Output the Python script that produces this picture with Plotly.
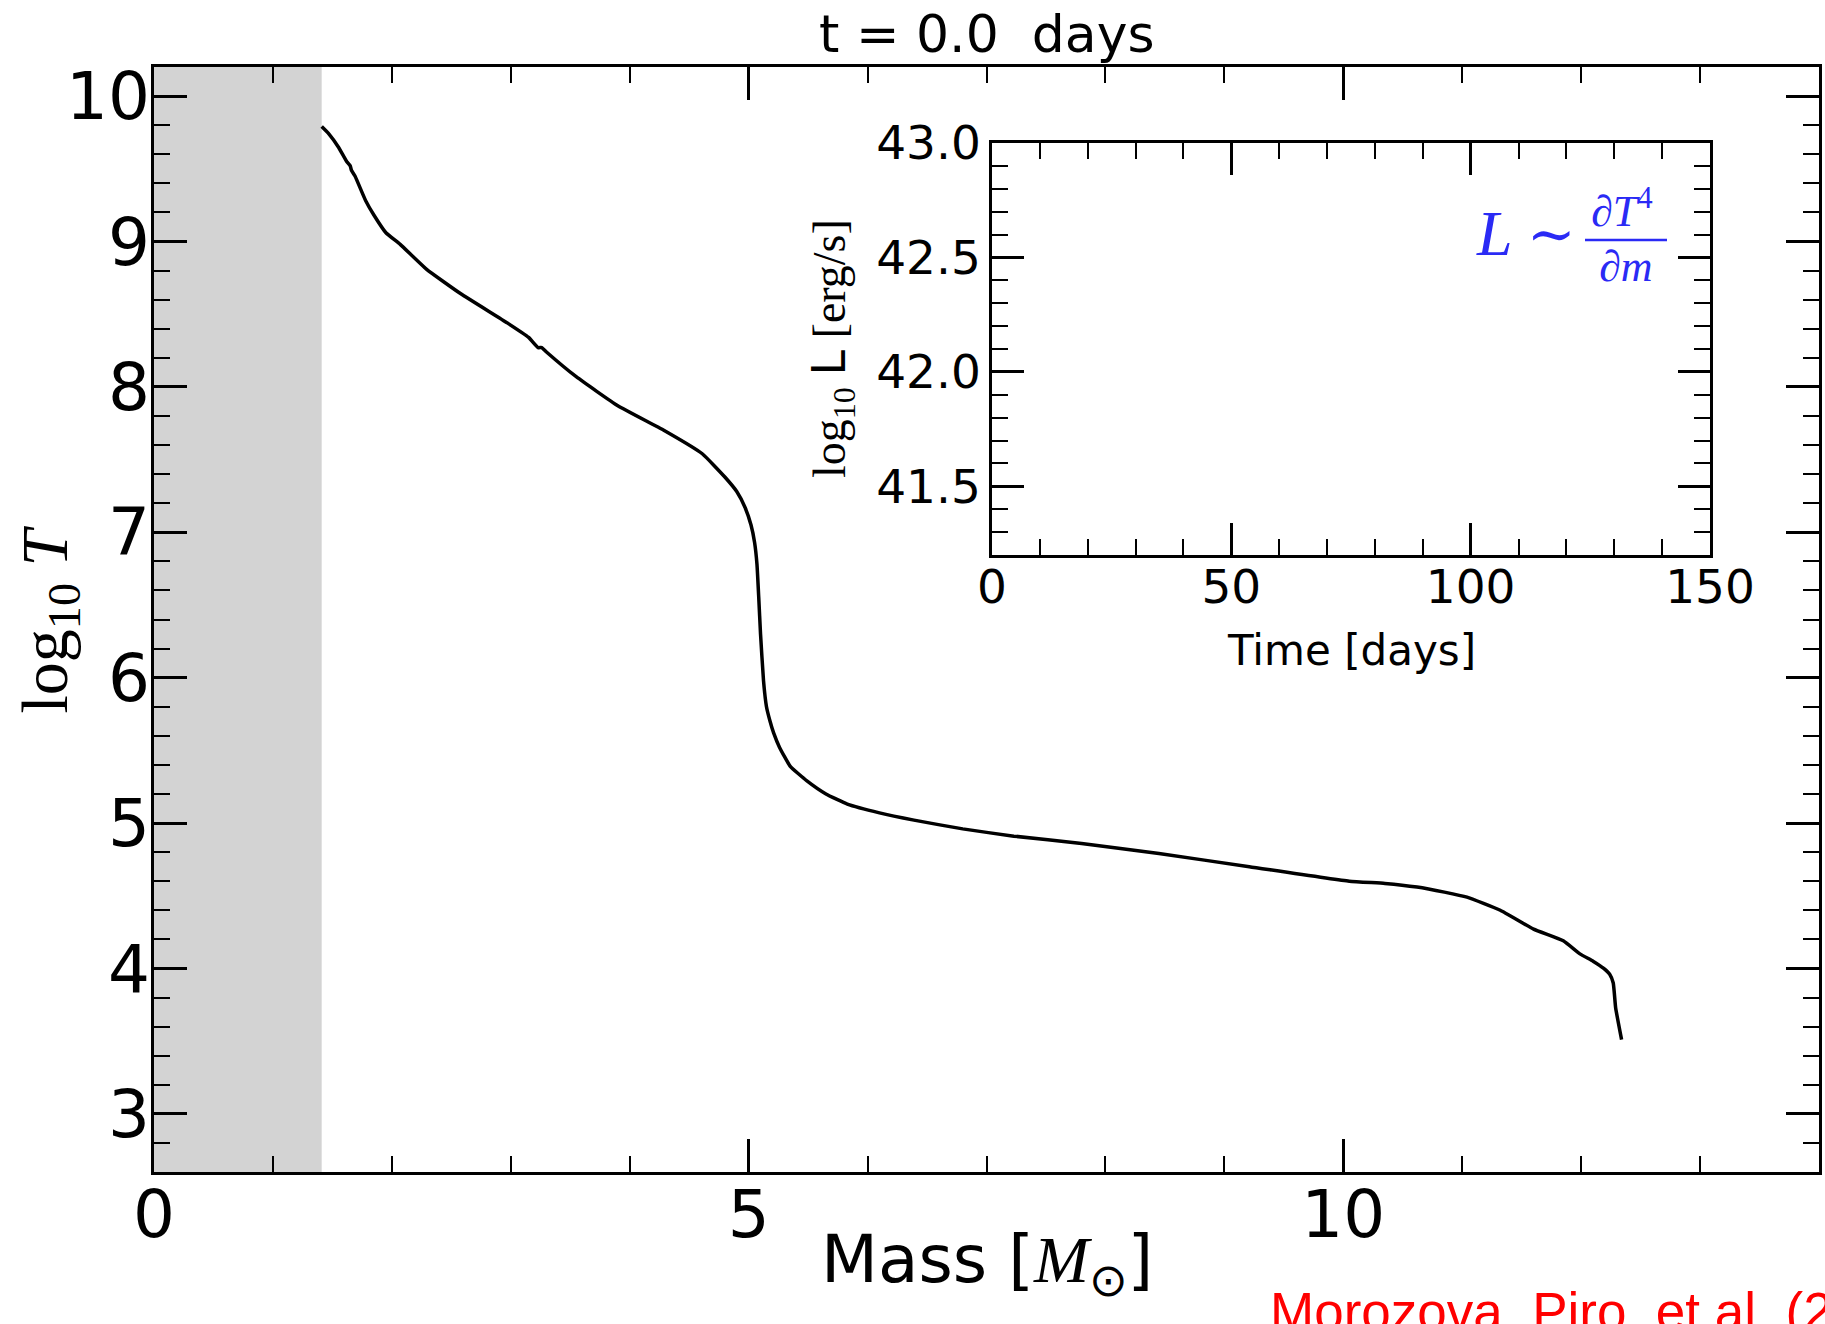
import plotly.graph_objects as go

# Temperature profile of the progenitor at t = 0 (mass coordinate in solar masses)
mass = [1.41, 1.47, 1.55, 1.62, 1.65, 1.66, 1.69, 1.78, 1.85, 1.95, 2.07, 2.29,
        2.58, 2.97, 3.15, 3.23, 3.26, 3.30, 3.55, 3.90, 4.29, 4.61, 4.80, 4.90,
        4.97, 5.02, 5.05, 5.07, 5.085, 5.10, 5.125, 5.15, 5.18, 5.21, 5.26,
        5.35, 5.49, 5.65, 5.83, 6.10, 6.39, 6.80, 7.23, 7.80, 8.45, 9.21, 10.05,
        10.35, 10.62, 10.85, 11.04, 11.32, 11.60, 11.85, 11.99, 12.10, 12.19,
        12.24, 12.27, 12.29, 12.34]
log_T = [9.79, 9.74, 9.65, 9.55, 9.52, 9.49, 9.45, 9.28, 9.18, 9.06, 8.98, 8.81,
         8.64, 8.44, 8.34, 8.27, 8.27, 8.24, 8.07, 7.87, 7.70, 7.54, 7.38, 7.28,
         7.17, 7.05, 6.93, 6.78, 6.55, 6.30, 5.98, 5.80, 5.70, 5.62, 5.52,
         5.39, 5.29, 5.20, 5.13, 5.07, 5.02, 4.96, 4.91, 4.86, 4.79, 4.70, 4.60,
         4.585, 4.56, 4.525, 4.49, 4.40, 4.27, 4.19, 4.10, 4.05, 4.00,
         3.96, 3.90, 3.73, 3.51]

# Light curve accumulated so far (nothing yet at t = 0)
t_days = []
log_L = []

elapsed = "0.0"
excised_mass = mass[0]  # inner boundary; the excised core is shaded

x_ticks_main = [0, 5, 10]
y_ticks_main = [3, 4, 5, 6, 7, 8, 9, 10]
x_ticks_inset = [0, 50, 100, 150]
y_ticks_inset = [41.5, 42.0, 42.5, 43.0]

# ---- layout geometry (pixels) ----
W, H = 1825, 1324
ML, MR, MT, MB = 154, 6, 67, 152


def px_x(px):
    return (px - ML) / (W - ML - MR)


def px_y(py):
    return (H - MB - py) / (H - MT - MB)


BLUE = "#2a2af5"
SANS = "DejaVu Sans"
SERIF = "Liberation Serif"


def axis_style(size, major_len, minor_len, tickvals, minor_dtick, standoff):
    return dict(
        showline=True, linecolor="black", linewidth=2.5, mirror="ticks",
        ticks="inside", ticklen=major_len, tickwidth=3, tickcolor="black",
        tickmode="array", tickvals=tickvals,
        minor=dict(ticks="inside", ticklen=minor_len, tickwidth=2,
                   tickcolor="black", dtick=minor_dtick, tick0=0),
        showgrid=False, zeroline=False, fixedrange=True, automargin=False,
        ticklabelstandoff=standoff,
        tickfont=dict(family=SANS, size=size, color="black"),
    )


fig = go.Figure()
fig.add_trace(go.Scatter(
    x=mass, y=log_T, mode="lines",
    line=dict(color="black", width=3.5, shape="spline", smoothing=0.4),
    showlegend=False, hoverinfo="skip"))
fig.add_trace(go.Scatter(
    x=t_days, y=log_L, mode="lines", xaxis="x2", yaxis="y2",
    line=dict(color="black", width=3), showlegend=False, hoverinfo="skip"))

ix0, ix1 = px_x(992), px_x(1710)
iy0, iy1 = px_y(555), px_y(143)

fig.update_layout(
    width=W, height=H,
    margin=dict(l=ML, r=MR, t=MT, b=MB, pad=0, autoexpand=False),
    paper_bgcolor="white", plot_bgcolor="white",
    xaxis=dict(axis_style(66, 33, 16, x_ticks_main, 1, -17),
               range=[0, 14], domain=[0, 1], anchor="y"),
    yaxis=dict(axis_style(66, 33, 16, y_ticks_main, 0.2, -12),
               range=[2.6, 10.2], domain=[0, 1], anchor="x"),
    xaxis2=dict(axis_style(47, 32, 16, x_ticks_inset, 10, -11),
                range=[0, 150], domain=[ix0, ix1], anchor="y2"),
    yaxis2=dict(axis_style(47, 32, 16, y_ticks_inset, 0.1, -1),
                range=[41.2, 43.0], domain=[iy0, iy1], anchor="x2",
                tickformat=".1f"),
    shapes=[
        dict(type="rect", xref="x", yref="y domain", x0=0, x1=excised_mass,
             y0=0, y1=1, fillcolor="#d3d3d3", line=dict(width=0),
             layer="below"),
        dict(type="line", xref="paper", yref="paper",
             x0=px_x(1585), x1=px_x(1667), y0=px_y(240), y1=px_y(240),
             line=dict(color=BLUE, width=2.5)),
    ],
)

ann = []
# title
ann.append(dict(text=f"t = {elapsed}&nbsp;&nbsp;days", x=0.5, y=px_y(2),
                xref="paper", yref="paper", xanchor="center", yanchor="top",
                showarrow=False, font=dict(family=SANS, size=52, color="black")))
# main axis titles
ann.append(dict(text=f"Mass [<span style='font-family:{SERIF}'><i>M</i></span><sub>⊙</sub>]",
                x=0.5, y=px_y(1219), xref="paper", yref="paper",
                xanchor="center", yanchor="top", showarrow=False,
                font=dict(family=SANS, size=66, color="black")))
ann.append(dict(text="log<sub>10</sub> <i>T</i>", x=px_x(49), y=0.5,
                xref="paper", yref="paper", xanchor="center", yanchor="middle",
                textangle=-90, showarrow=False,
                font=dict(family=SERIF, size=66, color="black")))
# inset axis titles
ann.append(dict(text="Time [days]", x=(ix0 + ix1) / 2, y=px_y(650),
                xref="paper", yref="paper", xanchor="center", yanchor="middle",
                showarrow=False, font=dict(family=SANS, size=42, color="black")))
ann.append(dict(text=f"log<sub>10</sub> <span style='font-family:{SANS}'>L</span> [erg/s]",
                x=px_x(832), y=(iy0 + iy1) / 2, xref="paper", yref="paper",
                xanchor="center", yanchor="middle", textangle=-90,
                showarrow=False, font=dict(family=SERIF, size=46, color="black")))
# luminosity relation
ann.append(dict(text="<i>L</i>", x=px_x(1474), y=px_y(196), xref="paper",
                yref="paper", xanchor="left", yanchor="top", showarrow=False,
                font=dict(family=SERIF, size=64, color=BLUE)))
ann.append(dict(text="∼", x=px_x(1551), y=px_y(234), xref="paper",
                yref="paper", xanchor="center", yanchor="middle",
                showarrow=False, font=dict(family="DejaVu Serif", size=58, color=BLUE)))
ann.append(dict(text="∂<i>T</i><sup>4</sup>", x=px_x(1622), y=px_y(238),
                xref="paper", yref="paper", xanchor="center", yanchor="bottom",
                showarrow=False, font=dict(family=SERIF, size=44, color=BLUE)))
ann.append(dict(text="∂<i>m</i>", x=px_x(1626), y=px_y(240), xref="paper",
                yref="paper", xanchor="center", yanchor="top", showarrow=False,
                font=dict(family=SERIF, size=44, color=BLUE)))
# credit
ann.append(dict(text="Morozova, Piro, et al. (2015)", x=px_x(1268),
                y=px_y(1280), xref="paper", yref="paper", xanchor="left",
                yanchor="top", showarrow=False,
                font=dict(family="Liberation Sans", size=53, color="red")))

fig.update_layout(annotations=ann)
fig.write_html("out.html")
